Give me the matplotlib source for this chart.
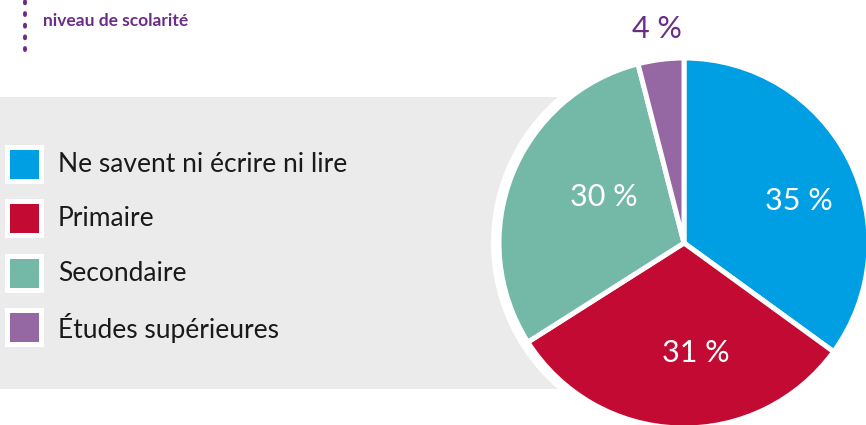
import matplotlib
matplotlib.use('Agg')
import matplotlib.pyplot as plt
from matplotlib.patches import Rectangle, Circle
import numpy as np

# === Daten ===
categories = ['Ne savent ni écrire ni lire', 'Primaire', 'Secondaire', 'Études supérieures']
values = [35, 31, 30, 4]
colors = ['#009FE3', '#C20A32', '#74B9A8', '#9568A4']
subtitle = 'niveau de scolarité'

# Abstand der Prozent-Labels vom Zentrum (Anteil des Radius) und Winkelkorrektur
label_dist = [0.66, 0.60, 0.50, 1.165]
label_shift = [-7, 8, -8, 0]

W, H = 866, 425
purple_text = '#6B2C88'
plt.rcParams['font.family'] = ['Lato', 'DejaVu Sans']

fig = plt.figure(figsize=(W / 100, H / 100), dpi=100)
ax = fig.add_axes([0, 0, 1, 1])

cx, cy = 684, H - 243
radius = 185

# grauer Hintergrund
ax.add_patch(Rectangle((0, H - 389), cx, 292, facecolor='#EBEBEB', edgecolor='none', zorder=0))
# weisser Ring um den Kuchen
ax.add_patch(Circle((cx, cy), radius + 8, facecolor='white', edgecolor='none', zorder=1))

wedges, _ = ax.pie(values, colors=colors, startangle=90, counterclock=False,
                   center=(cx, cy), radius=radius,
                   wedgeprops=dict(edgecolor='white', linewidth=3.6))
for w in wedges:
    w.set_zorder(2)

# Prozent-Labels
start = 90
for i, v in enumerate(values):
    mid = start - v * 3.6 / 2 + label_shift[i]
    start -= v * 3.6
    r = radius * label_dist[i]
    x = cx + r * np.cos(np.radians(mid))
    y = cy + r * np.sin(np.radians(mid))
    col = 'white' if label_dist[i] < 1 else purple_text
    ax.text(x, y, f'{v} %', ha='center', va='center', fontsize=22, color=col, zorder=3)

# Legende
for i, (cat, col) in enumerate(zip(categories, colors)):
    yc = H - (164 + i * 54.6)
    ax.add_patch(Rectangle((5, yc - 19.5), 39, 39, facecolor='white', edgecolor='none', zorder=2))
    ax.add_patch(Rectangle((10, yc - 14.5), 29, 29, facecolor=col, edgecolor='none', zorder=3))
    ax.text(58, yc, cat, ha='left', va='center', fontsize=19, color='#1A1A1A', zorder=3)

# Untertitel oben links mit gepunkteter Linie
ax.plot([25, 25], [H - 50, H + 2], linestyle=(0, (0.5, 2.5)), linewidth=2.8,
        color=purple_text, solid_capstyle='round', dash_capstyle='round')
ax.text(43, H - 21, subtitle, ha='left', va='center', fontsize=12.5,
        fontweight='bold', color=purple_text)

ax.set_xlim(0, W)
ax.set_ylim(0, H)
ax.set_aspect('auto')
ax.axis('off')

fig.savefig('out.png', dpi=100, facecolor='white')
